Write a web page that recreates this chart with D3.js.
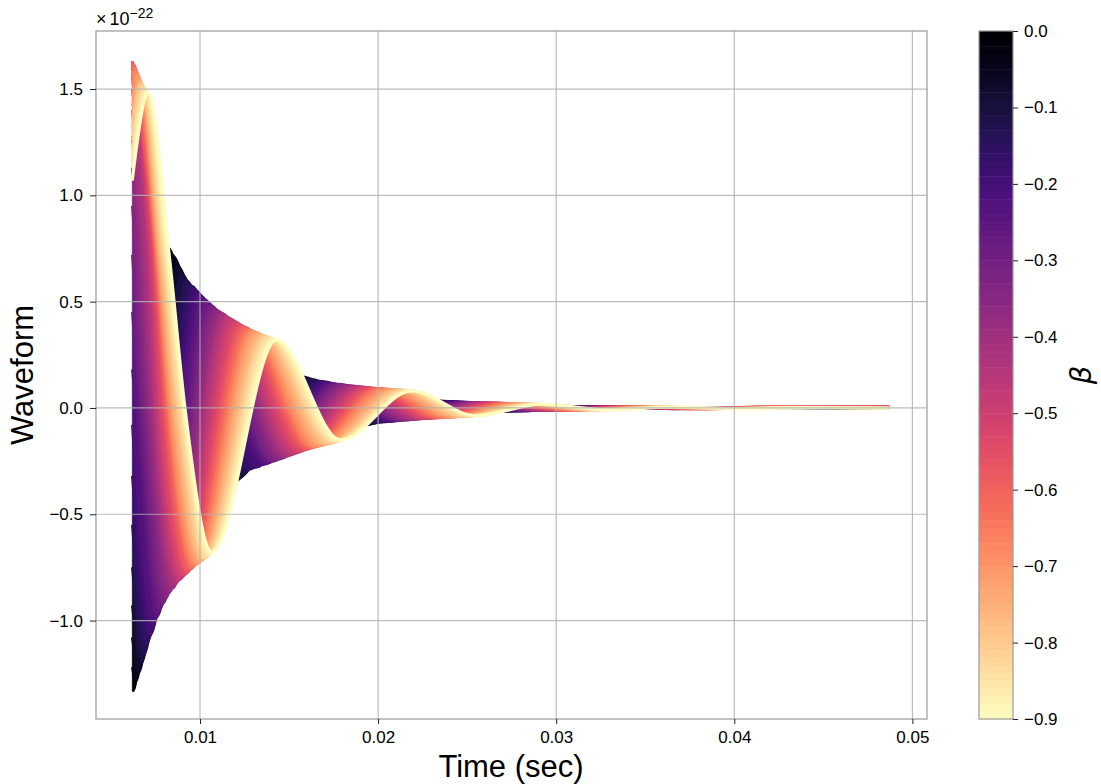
<!DOCTYPE html>
<html><head><meta charset="utf-8">
<script src="https://cdn.jsdelivr.net/npm/d3@7"></script>
<style>html,body{margin:0;padding:0;background:#fff}svg{display:block}text{font-family:"Liberation Sans",Arial,sans-serif;fill:#000}</style>
</head><body><svg id="c" width="1101" height="784"></svg>
<script>
// Curves: one entry per beta, landmarks are the start value, limb crossings and each curve's turning points.
const betas = [0,-0.03,-0.06,-0.09,-0.12,-0.15,-0.18,-0.21,-0.24,-0.27,-0.3,-0.33,-0.36,-0.39,-0.42,-0.45,-0.48,-0.51,-0.54,-0.57,-0.6,-0.63,-0.66,-0.69,-0.72,-0.75,-0.78,-0.81,-0.84,-0.87,-0.9];
const startTimeMs = 6.2, endTimeMs = 48.7;
const startValues = [-1.33,-1.22,-1.08,-0.93,-0.75,-0.55,-0.32,-0.08,0.18,0.45,0.72,0.95,1.13,1.28,1.4,1.5,1.56,1.6,1.63,1.63,1.6,1.56,1.52,1.47,1.42,1.37,1.32,1.26,1.2,1.13,1.07];
const firstPeakTimes = [null,null,null,null,null,null,null,null,null,null,null,null,null,null,null,null,null,null,null,null,6.25,6.3,6.4,6.5,6.6,6.65,6.7,6.8,6.9,7.0,7.1];
const firstPeakValues = [null,null,null,null,null,null,null,null,null,null,null,null,null,null,null,null,null,null,null,null,1.62,1.605,1.59,1.57,1.55,1.54,1.53,1.515,1.5,1.49,1.48];
const crossHighLevel = 0.7, crossZeroLevel = 0;
const crossHighTimes = [null,null,null,null,null,null,null,null,null,null,null,6.4,6.6,6.75,6.95,7.1,7.2,7.3,7.4,7.45,7.5,7.55,7.6,7.65,7.7,7.75,7.85,7.95,8.05,8.15,8.3];
const crossZeroTimes = [null,null,null,null,null,null,null,null,6.4,6.6,6.75,6.95,7.1,7.25,7.4,7.5,7.65,7.75,7.9,8.0,8.1,8.2,8.25,8.35,8.45,8.55,8.7,8.8,8.95,9.05,9.16];
const t1 = [6.25,6.4,6.55,6.7,6.85,7.0,7.2,7.35,7.55,7.7,7.9,8.05,8.25,8.45,8.6,8.75,8.9,9.05,9.2,9.3,9.45,9.55,9.7,9.8,9.95,10.05,10.15,10.3,10.4,10.55,10.67];
const v1 = [-1.33,-1.285,-1.245,-1.2,-1.16,-1.11,-1.07,-1.02,-0.985,-0.95,-0.92,-0.895,-0.87,-0.85,-0.83,-0.815,-0.805,-0.79,-0.78,-0.77,-0.76,-0.75,-0.74,-0.735,-0.725,-0.72,-0.71,-0.705,-0.695,-0.685,-0.677];
const t2 = [8.1,8.4,8.7,8.95,9.2,9.5,9.7,9.9,10.15,10.4,10.6,10.8,11.0,11.2,11.35,11.55,11.75,11.95,12.15,12.35,12.5,12.7,12.85,13.0,13.15,13.35,13.55,13.7,13.9,14.1,14.3];
const v2 = [0.76,0.72,0.67,0.63,0.6,0.575,0.555,0.535,0.515,0.495,0.48,0.465,0.455,0.445,0.435,0.425,0.415,0.405,0.395,0.385,0.38,0.37,0.365,0.36,0.355,0.345,0.34,0.335,0.33,0.325,0.32];
const t3 = [11.4,11.6,11.8,12.0,12.3,12.7,13.1,13.55,13.75,13.95,14.1,14.35,14.55,14.75,14.95,15.15,15.35,15.55,15.75,15.95,16.1,16.25,16.4,16.6,16.8,17.0,17.2,17.4,17.55,17.75,17.9];
const v3 = [-0.38,-0.365,-0.35,-0.335,-0.305,-0.29,-0.28,-0.267,-0.26,-0.253,-0.25,-0.243,-0.236,-0.23,-0.224,-0.218,-0.212,-0.206,-0.2,-0.195,-0.19,-0.187,-0.184,-0.18,-0.176,-0.172,-0.167,-0.162,-0.158,-0.154,-0.15];
const t4 = [15.1,15.35,15.6,15.9,16.25,16.7,16.95,17.15,17.35,17.55,17.75,17.95,18.2,18.4,18.65,18.85,19.1,19.3,19.5,19.75,19.95,20.15,20.35,20.6,20.8,21.05,21.25,21.45,21.65,21.8,21.9];
const v4 = [0.165,0.157,0.15,0.143,0.135,0.127,0.124,0.12,0.117,0.114,0.112,0.11,0.107,0.105,0.103,0.101,0.099,0.097,0.096,0.094,0.093,0.092,0.09,0.089,0.087,0.086,0.085,0.084,0.083,0.082,0.08];
const t5 = [18.6,18.85,19.1,19.4,19.75,20.2,20.45,20.65,20.85,21.05,21.2,21.45,21.65,21.85,22.1,22.3,22.5,22.75,22.95,23.2,23.4,23.6,23.85,24.05,24.25,24.5,24.75,25.0,25.2,25.4,25.5];
const v5 = [-0.09,-0.085,-0.08,-0.075,-0.071,-0.067,-0.065,-0.063,-0.062,-0.06,-0.059,-0.058,-0.056,-0.055,-0.054,-0.052,-0.051,-0.05,-0.049,-0.048,-0.047,-0.046,-0.045,-0.044,-0.043,-0.042,-0.041,-0.04,-0.039,-0.037,-0.036];
const t6 = [22.8,23.0,23.2,23.45,23.65,23.85,24.1,24.3,24.5,24.7,24.95,25.15,25.35,25.55,25.75,25.95,26.2,26.4,26.6,26.85,27.05,27.25,27.45,27.7,27.9,28.1,28.3,28.5,28.75,29.0,29.2];
const v6 = [0.036,0.035,0.034,0.033,0.032,0.031,0.03,0.03,0.029,0.028,0.028,0.027,0.027,0.026,0.026,0.025,0.025,0.024,0.024,0.023,0.023,0.022,0.022,0.021,0.021,0.02,0.02,0.019,0.019,0.018,0.017];
const t7 = [26.5,26.7,26.9,27.15,27.35,27.55,27.8,28.0,28.2,28.4,28.65,28.85,29.05,29.25,29.45,29.65,29.9,30.1,30.3,30.55,30.75,30.95,31.15,31.4,31.6,31.8,32.0,32.2,32.45,32.75,33.0];
const v7 = [-0.017,-0.0165,-0.016,-0.0158,-0.0155,-0.015,-0.0148,-0.0145,-0.014,-0.0138,-0.0135,-0.0132,-0.013,-0.0128,-0.0125,-0.0122,-0.012,-0.0118,-0.0115,-0.0112,-0.011,-0.0108,-0.0105,-0.0102,-0.01,-0.0098,-0.0095,-0.0092,-0.009,-0.0085,-0.008];
const t8 = [30.2,30.4,30.6,30.85,31.05,31.25,31.5,31.7,31.9,32.1,32.35,32.55,32.75,32.95,33.15,33.35,33.6,33.8,34.0,34.25,34.45,34.65,34.85,35.1,35.3,35.5,35.7,35.9,36.15,36.45,36.7];
const v8 = [0.0085,0.0083,0.008,0.0078,0.0076,0.0074,0.0072,0.007,0.0068,0.0067,0.0066,0.0066,0.0065,0.0065,0.0064,0.0064,0.0064,0.0063,0.0063,0.0062,0.0062,0.0061,0.006,0.0059,0.0058,0.0056,0.0054,0.0052,0.005,0.0046,0.004];
const t9 = [33.9,34.1,34.3,34.55,34.75,34.95,35.2,35.4,35.6,35.8,36.05,36.25,36.45,36.65,36.85,37.05,37.3,37.5,37.7,37.95,38.15,38.35,38.55,38.8,39.0,39.2,39.4,39.6,39.85,40.15,40.4];
const v9 = [-0.0035,-0.0035,-0.0035,-0.0035,-0.0036,-0.0036,-0.0037,-0.0037,-0.0038,-0.0038,-0.0039,-0.004,-0.0041,-0.0042,-0.0043,-0.0044,-0.0045,-0.0045,-0.0046,-0.0046,-0.0046,-0.0045,-0.0044,-0.0043,-0.0042,-0.004,-0.0038,-0.0036,-0.0034,-0.0032,-0.003];
const t10 = [37.6,37.8,38.0,38.25,38.45,38.65,38.9,39.1,39.3,39.5,39.75,39.95,40.15,40.35,40.55,40.75,41.0,41.2,41.4,41.65,41.85,42.05,42.25,42.5,42.7,42.9,43.1,43.3,43.55,43.85,44.1];
const v10 = [0.0012,0.0012,0.0013,0.0014,0.0015,0.0016,0.0018,0.002,0.0022,0.0024,0.0026,0.0028,0.003,0.0032,0.0034,0.0036,0.0038,0.004,0.0041,0.0042,0.0042,0.0041,0.004,0.0038,0.0035,0.0032,0.0029,0.0026,0.0024,0.0022,0.002];
const endValues = [0.0005,0.0005,0.0005,0.0006,0.0008,0.001,0.0012,0.0015,0.002,0.0025,0.003,0.0034,0.0038,0.0042,0.0045,0.0048,0.005,0.005,0.0048,0.0045,0.004,0.0034,0.0026,0.0018,0.001,0.0004,-0.0002,-0.0006,-0.001,-0.0014,-0.0018];
const timeSeries = [t1,t2,t3,t4,t5,t6,t7,t8,t9,t10];
const valueSeries = [v1,v2,v3,v4,v5,v6,v7,v8,v9,v10];

const xTicks = [0.01,0.02,0.03,0.04,0.05];
const yTicks = [-1.0,-0.5,0.0,0.5,1.0,1.5];
const cbTicks = [0,-0.1,-0.2,-0.3,-0.4,-0.5,-0.6,-0.7,-0.8,-0.9];
const xLabel = "Time (sec)", yLabel = "Waveform", cbLabel = "β";
const xDomain = [4.16,50.82], yDomain = [-1.463,1.773], betaDomain = [-0.9,0];

const L=96,R=927,T=31,B=719, CL=979,CR=1013;
const fmt = v => (v<0?"\u2212":"")+Math.abs(v).toFixed(1);
const svg = d3.select("#c");
const x = d3.scaleLinear().domain(xDomain).range([L,R]);
const y = d3.scaleLinear().domain(yDomain).range([B,T]);
const cy = d3.scaleLinear().domain(betaDomain).range([B,T]);
const color = d3.scaleSequential(d3.interpolateMagma).domain([0,-0.9]);

const curves = betas.map((b,i)=>{
  const pts=[[startTimeMs,startValues[i]]];
  if(firstPeakTimes[i]!==null) pts.push([firstPeakTimes[i],firstPeakValues[i]]);
  if(crossHighTimes[i]!==null) pts.push([crossHighTimes[i],crossHighLevel]);
  if(crossZeroTimes[i]!==null) pts.push([crossZeroTimes[i],crossZeroLevel]);
  timeSeries.forEach((ts,k)=>pts.push([ts[i],valueSeries[k][i]]));
  pts.push([endTimeMs,endValues[i]]);
  return {b,pts};
});
const line = d3.line().x(d=>x(d[0])).y(d=>y(d[1])).curve(d3.curveMonotoneX);
const sheet = svg.append("g");
curves.forEach((c,i)=>{
  if(i>0){
    const prev=curves[i-1];
    const back=line(prev.pts.slice().reverse()).replace(/^M/,"L");
    sheet.append("path").attr("d",line(c.pts)+back+"Z")
      .attr("fill",color((c.b+prev.b)/2)).attr("stroke",color((c.b+prev.b)/2)).attr("stroke-width",0.8);
  }
  sheet.append("path").attr("d",line(c.pts)).attr("fill","none")
    .attr("stroke",color(c.b)).attr("stroke-width",i===curves.length-1?3:2.6).attr("stroke-linejoin","round");
});

const gridC="rgba(176,176,176,0.85)";
const grid=svg.append("g");
grid.selectAll(".gx").data(xTicks).join("line").attr("x1",d=>x(d*1000)).attr("x2",d=>x(d*1000)).attr("y1",T).attr("y2",B).attr("stroke",gridC).attr("stroke-width",1.2);
grid.selectAll(".gy").data(yTicks).join("line").attr("y1",d=>y(d)).attr("y2",d=>y(d)).attr("x1",L).attr("x2",R).attr("stroke",gridC).attr("stroke-width",1.2);

svg.append("rect").attr("x",L).attr("y",T).attr("width",R-L).attr("height",B-T).attr("fill","none").attr("stroke","#999").attr("stroke-width",1.2);

const xAxis=d3.axisBottom(x).tickValues(xTicks.map(d=>d*1000)).tickFormat(d=>d3.format(".2f")(d/1000)).tickSize(5).tickPadding(7);
const gx=svg.append("g").attr("transform",`translate(0,${B})`).call(xAxis);
const yAxis=d3.axisLeft(y).tickValues(yTicks).tickFormat(fmt).tickSize(6).tickPadding(7);
const gy=svg.append("g").attr("transform",`translate(${L},0)`).call(yAxis);
[gx,gy].forEach(g=>{g.select(".domain").remove();g.selectAll("text").style("font-size","17px").style("font-family",'"Liberation Sans",Arial,sans-serif');g.selectAll("line").attr("stroke","#222").attr("stroke-width",1);});

svg.append("text").attr("x",511).attr("y",777).attr("text-anchor","middle").style("font-size","31px").text(xLabel);
svg.append("text").attr("transform","translate(33,375) rotate(-90)").attr("text-anchor","middle").style("font-size","31px").text(yLabel);
const off=svg.append("text").attr("x",96).attr("y",25).style("font-size","18px");
off.append("tspan").text("\u00d7");
off.append("tspan").attr("dx",3).text("10");
off.append("tspan").attr("dy",-7).style("font-size","14px").text("\u221222");

// colour bar
const levels=d3.range(0,90);
svg.append("g").selectAll("rect").data(levels).join("rect")
  .attr("x",CL).attr("width",CR-CL)
  .attr("y",d=>cy(-d/100)).attr("height",d=>cy(-(d+1)/100)-cy(-d/100)+0.5)
  .attr("fill",d=>color(-(d+0.5)/100));
svg.append("rect").attr("x",CL).attr("y",T).attr("width",CR-CL).attr("height",B-T).attr("fill","none").attr("stroke","#999").attr("stroke-width",1.2);
const cAxis=d3.axisRight(cy).tickValues(cbTicks).tickFormat(fmt).tickSize(5).tickPadding(6);
const gc=svg.append("g").attr("transform",`translate(${CR},0)`).call(cAxis);
gc.select(".domain").remove();
gc.selectAll("text").style("font-size","17px").style("font-family",'"Liberation Sans",Arial,sans-serif');
gc.selectAll("line").attr("stroke","#222").attr("stroke-width",1);
svg.append("text").attr("transform","translate(1091,375) rotate(-90)").attr("text-anchor","middle").style("font-size","29px").style("font-style","italic").style("font-family",'"DejaVu Sans",sans-serif').text(cbLabel);
</script></body></html>
